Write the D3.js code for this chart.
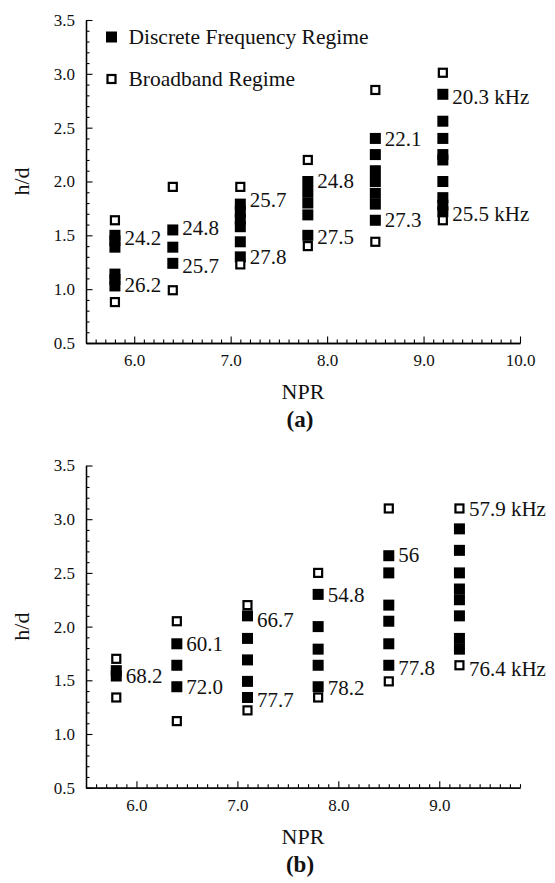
<!DOCTYPE html>
<html lang="en">
<head>
<meta charset="utf-8">
<title>h/d vs NPR</title>
<script src="https://d3js.org/d3.v7.min.js"></script>
<style>
  body { margin: 0; background: #fff; }
</style>
</head>
<body>
<div id="chart"></div>
<script>
// NPR positions of the measurement columns (same for both panels)
var npr = [5.8, 6.4, 7.1, 7.8, 8.5, 9.2];

// panel (a): h/d of the discrete frequency points, one list per column
var discreteA = [
  [1.50, 1.45, 1.39, 1.14, 1.09, 1.03],
  [1.55, 1.39, 1.24],
  [1.79, 1.72, 1.65, 1.58, 1.44, 1.30],
  [2.00, 1.90, 1.80, 1.69, 1.50],
  [2.40, 2.25, 2.10, 2.00, 1.89, 1.79, 1.64],
  [2.81, 2.56, 2.40, 2.25, 2.20, 2.00, 1.85, 1.78, 1.72]
];
// panel (a): broadband regime points
var broadbandA = [[1.64, 0.88], [1.95, 0.99], [1.95, 1.23], [2.20, 1.40], [2.85, 1.44], [3.01, 1.64]];
// panel (a): frequency labels (column index, h/d, text)
var labelColA = [0, 0, 1, 1, 2, 2, 3, 3, 4, 4, 5, 5];
var labelHdA  = [1.48, 1.04, 1.57, 1.22, 1.83, 1.30, 2.01, 1.49, 2.40, 1.64, 2.79, 1.70];
var labelTxtA = ["24.2", "26.2", "24.8", "25.7", "25.7", "27.8", "24.8", "27.5", "22.1", "27.3", "20.3 kHz", "25.5 kHz"];

// panel (b)
var discreteB = [
  [1.59, 1.54],
  [1.84, 1.64, 1.44],
  [2.10, 1.89, 1.69, 1.49, 1.34],
  [2.30, 2.00, 1.79, 1.64, 1.44],
  [2.66, 2.50, 2.20, 2.05, 1.84, 1.64],
  [2.91, 2.71, 2.50, 2.35, 2.25, 2.10, 1.89, 1.79]
];
var broadbandB = [[1.70, 1.34], [2.05, 1.12], [2.20, 1.22], [2.50, 1.34], [3.10, 1.49], [3.10, 1.64]];
var labelColB = [0, 1, 1, 2, 2, 3, 3, 4, 4, 5, 5];
var labelHdB  = [1.54, 1.84, 1.44, 2.06, 1.32, 2.30, 1.43, 2.67, 1.62, 3.10, 1.61];
var labelTxtB = ["68.2", "60.1", "72.0", "66.7", "77.7", "54.8", "78.2", "56", "77.8", "57.9 kHz", "76.4 kHz"];

// axis ticks
var yMajor = [0.5, 1.0, 1.5, 2.0, 2.5, 3.0, 3.5];
var xMajorA = [6, 7, 8, 9, 10];
var xMajorB = [6, 7, 8, 9];

var legendNames = ["Discrete Frequency Regime", "Broadband Regime"];

var FONT = "'Liberation Serif', 'Times New Roman', serif";
var W = 555, H = 883;
var svg = d3.select("#chart").append("svg")
    .attr("width", W)
    .attr("height", H);

function drawPanel(p) {
  var x = d3.scaleLinear().domain(p.xDomain).range([86, 520]);
  var y = d3.scaleLinear().domain([0.5, 3.5]).range(p.yRange);
  var g = svg.append("g");

  // minor ticks every 0.1
  var xMinor = d3.range(Math.round(p.xDomain[0] * 10) + 1, Math.round(p.xDomain[1] * 10) + 1)
      .map(function(d) { return d / 10; })
      .filter(function(d) { return Math.abs(d - Math.round(d)) > 1e-6; });
  var yMinor = d3.range(6, 35).map(function(d) { return d / 10; })
      .filter(function(d) { return Math.abs(d * 2 - Math.round(d * 2)) > 1e-6; });

  g.append("g")
      .attr("transform", "translate(0," + p.yRange[0] + ")")
      .call(d3.axisBottom(x).tickValues(xMinor).tickSize(-3.5).tickSizeOuter(0).tickFormat(""));
  g.append("g")
      .attr("transform", "translate(0," + p.yRange[0] + ")")
      .call(d3.axisBottom(x).tickValues(p.xMajor).tickSize(-6.5).tickSizeOuter(0)
        .tickPadding(11).tickFormat(d3.format(".1f")));
  g.append("g")
      .attr("transform", "translate(86,0)")
      .call(d3.axisLeft(y).tickValues(yMinor).tickSize(-3.5).tickSizeOuter(0).tickFormat(""));
  g.append("g")
      .attr("transform", "translate(86,0)")
      .call(d3.axisLeft(y).tickValues(yMajor).tickSize(-6.5).tickSizeOuter(0)
        .tickPadding(11).tickFormat(d3.format(".1f")));

  g.selectAll(".domain").attr("stroke", "#000").attr("stroke-width", 1.3);
  g.selectAll(".tick line").attr("stroke", "#000").attr("stroke-width", 1.1);
  g.selectAll(".tick text")
      .style("font-family", FONT)
      .style("font-size", "17px")
      .attr("fill", "#111");

  // filled squares (drawn first, the open ones sit on top)
  var filled = [];
  p.discrete.forEach(function(col, i) {
    col.forEach(function(v) { filled.push({ n: npr[i], v: v }); });
  });
  g.selectAll("rect.fill").data(filled).enter().append("rect")
      .attr("class", "fill")
      .attr("x", function(d) { return x(d.n) - 5.5; })
      .attr("y", function(d) { return y(d.v) - 5.5; })
      .attr("width", 11).attr("height", 11)
      .attr("fill", "#000");

  var open = [];
  p.broadband.forEach(function(col, i) {
    col.forEach(function(v) { open.push({ n: npr[i], v: v }); });
  });
  g.selectAll("rect.open").data(open).enter().append("rect")
      .attr("class", "open")
      .attr("x", function(d) { return x(d.n) - 4; })
      .attr("y", function(d) { return y(d.v) - 4; })
      .attr("width", 8).attr("height", 8)
      .attr("fill", "#fff")
      .attr("stroke", "#000")
      .attr("stroke-width", 2.2);

  // frequency labels
  g.selectAll("text.lab").data(p.labTxt).enter().append("text")
      .attr("class", "lab")
      .attr("x", function(d, i) { return x(npr[p.labCol[i]]) + 9.5; })
      .attr("y", function(d, i) { return y(p.labHd[i]); })
      .attr("dy", "0.34em")
      .style("font-family", FONT)
      .style("font-size", "21px")
      .attr("fill", "#111")
      .text(function(d) { return d; });

  // axis titles
  g.append("text")
      .attr("x", 303).attr("y", p.yRange[0] + 56)
      .attr("text-anchor", "middle")
      .style("font-family", FONT)
      .style("font-size", "22px")
      .attr("fill", "#111")
      .text("NPR");
  g.append("text")
      .attr("transform", "translate(29," + (p.yRange[0] + p.yRange[1]) / 2 + ") rotate(-90)")
      .attr("text-anchor", "middle")
      .style("font-family", FONT)
      .style("font-size", "22px")
      .attr("fill", "#111")
      .text("h/d");
  g.append("text")
      .attr("x", 300).attr("y", p.yRange[0] + 84)
      .attr("text-anchor", "middle")
      .style("font-family", FONT)
      .style("font-size", "23px")
      .style("font-weight", "bold")
      .attr("fill", "#111")
      .text(p.tag);

  return g;
}

var gA = drawPanel({
  xDomain: [5.5, 10.0], yRange: [343, 20], xMajor: xMajorA,
  discrete: discreteA, broadband: broadbandA,
  labCol: labelColA, labHd: labelHdA, labTxt: labelTxtA, tag: "(a)"
});
drawPanel({
  xDomain: [5.5, 9.8], yRange: [787.7, 465.5], xMajor: xMajorB,
  discrete: discreteB, broadband: broadbandB,
  labCol: labelColB, labHd: labelHdB, labTxt: labelTxtB, tag: "(b)"
});

// legend in panel (a)
var leg = gA.append("g").attr("transform", "translate(111.5,37)");
leg.append("rect")
    .attr("x", -5.5).attr("y", -5.5).attr("width", 11).attr("height", 11)
    .attr("fill", "#000");
leg.append("rect")
    .attr("x", -4).attr("y", 38).attr("width", 8).attr("height", 8)
    .attr("fill", "#fff").attr("stroke", "#000").attr("stroke-width", 2.2);
leg.selectAll("text").data(legendNames).enter().append("text")
    .attr("x", 17)
    .attr("y", function(d, i) { return i * 42 + 7; })
    .style("font-family", FONT)
    .style("font-size", "21.5px")
    .attr("fill", "#111")
    .text(function(d) { return d; });
</script>
</body>
</html>
